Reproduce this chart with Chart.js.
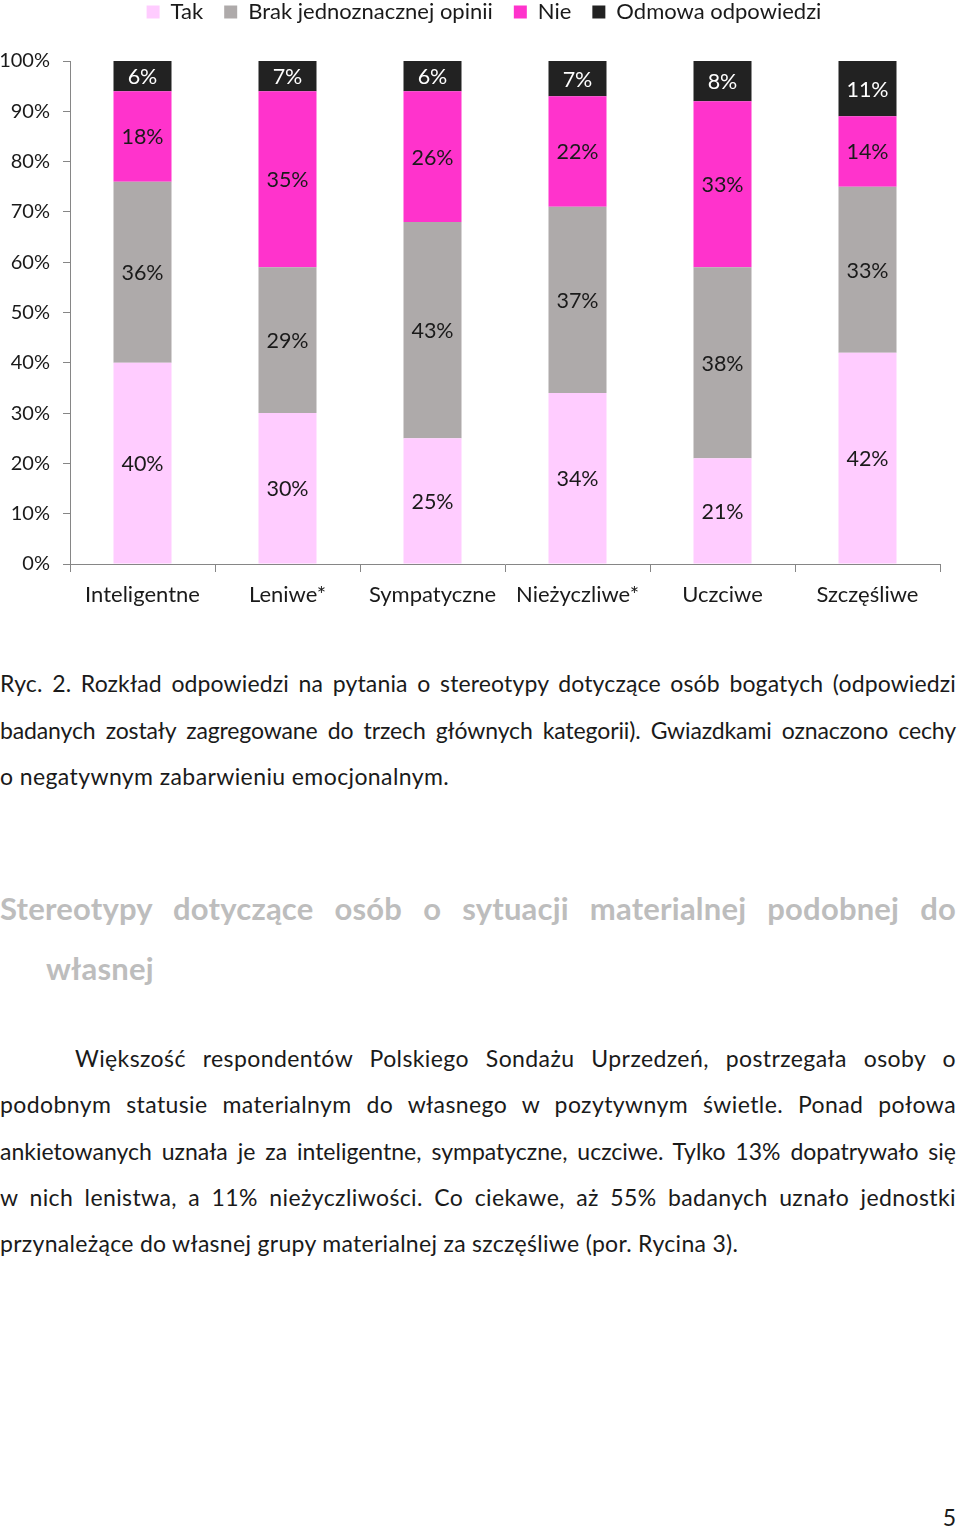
<!DOCTYPE html>
<html lang="pl">
<head>
<meta charset="utf-8">
<script src="https://cdn.jsdelivr.net/npm/chart.js@4.4.1/dist/chart.umd.min.js"></script>
<style>
  html, body { margin: 0; padding: 0; background: #fff; }
  body { width: 960px; height: 1528px; position: relative; overflow: hidden;
         font-family: Lato, "Open Sans", sans-serif; color: #1a1a1a; }
  #wrap { position: absolute; left: 0; top: 0; width: 960px; height: 625px; }
  .blk { position: absolute; left: 0; width: 956px; }
  .ln { display: block; white-space: nowrap; }
  .j { text-align: justify; text-align-last: justify; }
  #caption { top: 660px; font-size: 23px; letter-spacing: 0.4px; line-height: 46.5px; }
  #heading { top: 878px; font-size: 31px; letter-spacing: 0.2px; line-height: 60px; font-weight: bold; color: #bdbdbd; }
  #body { top: 1035px; font-size: 23px; letter-spacing: 0.4px; line-height: 46.25px; }
  #page { position: absolute; right: 4px; top: 1500px; font-size: 23px; line-height: 34px; }
</style>
</head>
<body>
<div id="wrap"><canvas id="c" width="960" height="625"></canvas></div>

<div id="caption" class="blk">
  <span class="ln j">Ryc. 2. Rozkład odpowiedzi na pytania o stereotypy dotyczące osób bogatych (odpowiedzi</span>
  <span class="ln j">badanych zostały zagregowane do trzech głównych kategorii). Gwiazdkami oznaczono cechy</span>
  <span class="ln">o negatywnym zabarwieniu emocjonalnym.</span>
</div>

<div id="heading" class="blk">
  <span class="ln j">Stereotypy dotyczące osób o sytuacji materialnej podobnej do</span>
  <span class="ln" style="padding-left:46px">własnej</span>
</div>

<div id="body" class="blk">
  <span class="ln j" style="padding-left:75px">Większość respondentów Polskiego Sondażu Uprzedzeń, postrzegała osoby o</span>
  <span class="ln j">podobnym statusie materialnym do własnego w pozytywnym świetle. Ponad połowa</span>
  <span class="ln j">ankietowanych uznała je za inteligentne, sympatyczne, uczciwe. Tylko 13% dopatrywało się</span>
  <span class="ln j">w nich lenistwa, a 11% nieżyczliwości. Co ciekawe, aż 55% badanych uznało jednostki</span>
  <span class="ln" style="letter-spacing:0.3px">przynależące do własnej grupy materialnej za szczęśliwe (por. Rycina 3).</span>
</div>

<div id="page">5</div>

<script>
// keep every justified line on one line: shrink letter-spacing if its natural width is too wide
document.querySelectorAll(".ln.j").forEach(el => {
  const cs = getComputedStyle(el);
  const probe = document.createElement("span");
  probe.textContent = el.textContent;
  probe.style.cssText = "position:absolute;visibility:hidden;white-space:nowrap;font:" + cs.font +
                        ";letter-spacing:" + cs.letterSpacing;
  document.body.appendChild(probe);
  const avail = 956 - (parseFloat(cs.paddingLeft) || 0) - 40;
  const w = probe.getBoundingClientRect().width;
  if (w > avail) {
    const ls = parseFloat(cs.letterSpacing) || 0;
    el.style.letterSpacing = (ls - (w - avail) / el.textContent.length) + "px";
  }
  probe.remove();
});

const categories = ["Inteligentne", "Leniwe*", "Sympatyczne", "Nieżyczliwe*", "Uczciwe", "Szczęśliwe"];
const seriesNames = ["Tak", "Brak jednoznacznej opinii", "Nie", "Odmowa odpowiedzi"];
const tak    = [40, 30, 25, 34, 21, 42];
const brak   = [36, 29, 43, 37, 38, 33];
const nie    = [18, 35, 26, 22, 33, 14];
const odmowa = [6, 7, 6, 7, 8, 11];
const yTicks = [0, 10, 20, 30, 40, 50, 60, 70, 80, 90, 100];

const FONT = "Lato, 'Open Sans', sans-serif";
const colors = ["#ffccff", "#aeaaaa", "#ff33cc", "#222222"];
const labelColors = ["#1a1a1a", "#1a1a1a", "#1a1a1a", "#ffffff"];
const values = [tak, brak, nie, odmowa];

const LEGEND_TOP = -20;
const AREA_TOP = 61;

const legendFit = {
  id: "legendFit",
  beforeInit(chart) {
    const lg = chart.legend;
    if (!lg) return;
    const orig = lg.fit.bind(lg);
    lg.fit = function () { orig(); this.height = AREA_TOP - LEGEND_TOP; };
  },
  afterLayout(chart) {
    const lg = chart.legend;
    if (!lg) return;
    // centre the legend row over the whole page width like the original
    lg.left = 14;
    lg.right = 954;
  }
};

const segLabels = {
  id: "segLabels",
  afterDatasetsDraw(chart) {
    const ctx = chart.ctx;
    const area = chart.chartArea;
    ctx.save();
    ctx.font = "21.5px " + FONT;
    ctx.textAlign = "center";
    ctx.textBaseline = "middle";
    chart.data.datasets.forEach((ds, di) => {
      const meta = chart.getDatasetMeta(di);
      meta.data.forEach((bar, i) => {
        const top = Math.max(Math.min(bar.y, bar.base), area.top);
        const bot = Math.min(Math.max(bar.y, bar.base), area.bottom);
        ctx.fillStyle = labelColors[di];
        ctx.fillText(ds.data[i] + "%", bar.x, (top + bot) / 2 + 1);
      });
    });
    ctx.restore();
  }
};

new Chart(document.getElementById("c"), {
  type: "bar",
  data: {
    labels: categories,
    datasets: seriesNames.map((n, k) => ({
      label: n,
      data: values[k],
      backgroundColor: colors[k],
      borderWidth: 0,
      categoryPercentage: 1,
      barPercentage: 0.4
    }))
  },
  options: {
    responsive: false,
    animation: false,
    layout: { padding: { top: LEGEND_TOP, right: 20, left: 0, bottom: 0 } },
    plugins: {
      legend: {
        position: "top",
        labels: {
          font: { family: FONT, size: 22 },
          color: "#1a1a1a",
          boxWidth: 13,
          boxHeight: 13,
          padding: 21
        }
      },
      tooltip: { enabled: false }
    },
    scales: {
      x: {
        stacked: true,
        grid: { display: true, drawOnChartArea: false, drawTicks: true, tickLength: 8, color: "#868686", offset: true },
        border: { display: true, color: "#868686", width: 1 },
        ticks: { font: { family: FONT, size: 22 }, color: "#1a1a1a", padding: 10, maxRotation: 0 },
        afterFit(s) { s.height = 61; }
      },
      y: {
        stacked: true,
        min: 0, max: 100,
        afterBuildTicks(s) { s.ticks = yTicks.map(v => ({ value: v })); },
        grid: { display: true, drawOnChartArea: false, drawTicks: true, tickLength: 7, color: "#868686" },
        border: { display: true, color: "#868686", width: 1 },
        ticks: { font: { family: FONT, size: 20 }, color: "#1a1a1a", padding: 13,
                 callback: v => v + "%" },
        afterFit(s) { s.width = 70; }
      }
    }
  },
  plugins: [legendFit, segLabels]
});
</script>
</body>
</html>
